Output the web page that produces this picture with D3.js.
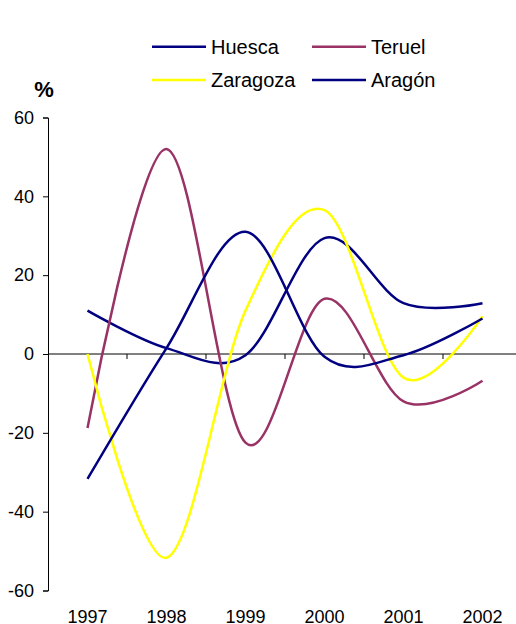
<!DOCTYPE html>
<html>
<head>
<meta charset="utf-8">
<script src="https://cdn.jsdelivr.net/npm/d3@7"></script>
<style>
  html, body { margin: 0; padding: 0; background: #fff; }
  svg { display: block; font-family: "Liberation Sans", Arial, sans-serif; }
</style>
</head>
<body>
<svg id="chart" width="516" height="624"></svg>
<script>
const years = ["1997", "1998", "1999", "2000", "2001", "2002"];
const huesca   = [11, 1.5, -0.3, 29.4, 12.9, 12.9];
const teruel   = [-18.8, 52, -22.5, 14, -12, -6.8];
const zaragoza = [0, -51.7, 11, 36.5, -6, 9.6];
const aragon   = [-31.7, 1.5, 31, -0.7, -0.3, 9];
const yTicks = [-60, -40, -20, 0, 20, 40, 60];
const seriesNames = ["Huesca", "Teruel", "Zaragoza", "Aragón"];
const seriesColors = ["#000080", "#993366", "#FFFF00", "#000080"];
const seriesValues = [huesca, teruel, zaragoza, aragon];

const svg = d3.select("#chart");
const x = d3.scaleBand().domain(years).range([48, 522]).padding(0);
const y = d3.scaleLinear().domain([-60, 60]).range([590.5, 117.5]);

// title (mostly cut off at the top)
svg.append("text").attr("x", 310).attr("y", 0).attr("text-anchor", "middle")
  .attr("font-size", 21).attr("font-weight", "bold").attr("fill", "#000")
  .text("Tasas de variación interanual");

// y axis
const yAxis = svg.append("g").attr("transform", "translate(48,0)")
  .call(d3.axisLeft(y).tickValues(yTicks).tickSize(5).tickPadding(9).tickFormat(d => String(d)));
yAxis.select(".domain").attr("stroke", "#000").attr("stroke-width", 1);
yAxis.selectAll(".tick line").attr("stroke", "#000");
yAxis.selectAll("text").attr("font-size", 18).attr("fill", "#000")
  .attr("font-family", "Liberation Sans, Arial, sans-serif");

// x axis line at 0 with ticks at category boundaries
const xAxisG = svg.append("g").attr("transform", `translate(0,${y(0)})`);
xAxisG.append("line").attr("x1", 48).attr("x2", 516).attr("y1", 0).attr("y2", 0)
  .attr("stroke", "#000").attr("stroke-width", 1);
xAxisG.selectAll("line.tk").data(years.slice(1)).join("line").attr("class", "tk")
  .attr("x1", d => x(d)).attr("x2", d => x(d)).attr("y1", 0).attr("y2", 5)
  .attr("stroke", "#000").attr("stroke-width", 1);

// x labels at bottom
svg.append("g").selectAll("text").data(years).join("text")
  .attr("x", d => x(d) + x.bandwidth() / 2).attr("y", 623)
  .attr("text-anchor", "middle").attr("font-size", 18).attr("fill", "#000")
  .text(d => d);

// % label
svg.append("text").attr("x", 44).attr("y", 97).attr("text-anchor", "middle")
  .attr("font-size", 22).attr("font-weight", "bold").text("%");

// lines
const line = d3.line()
  .x((d, i) => x(years[i]) + x.bandwidth() / 2)
  .y(d => y(d))
  .curve(d3.curveCardinal.tension(0));

seriesValues.forEach((vals, k) => {
  svg.append("path").datum(vals).attr("d", line)
    .attr("fill", "none").attr("stroke", seriesColors[k]).attr("stroke-width", 2.5);
});

// legend
const legendPos = [[152, 46.7], [312, 46.7], [152, 80], [312, 80]];
seriesNames.forEach((name, k) => {
  const [lx, ly] = legendPos[k];
  svg.append("line").attr("x1", lx).attr("x2", lx + 54).attr("y1", ly).attr("y2", ly)
    .attr("stroke", seriesColors[k]).attr("stroke-width", 2.5);
  svg.append("text").attr("x", lx + 59).attr("y", ly + 7).attr("font-size", 20)
    .attr("fill", "#000").text(name);
});
</script>
</body>
</html>
